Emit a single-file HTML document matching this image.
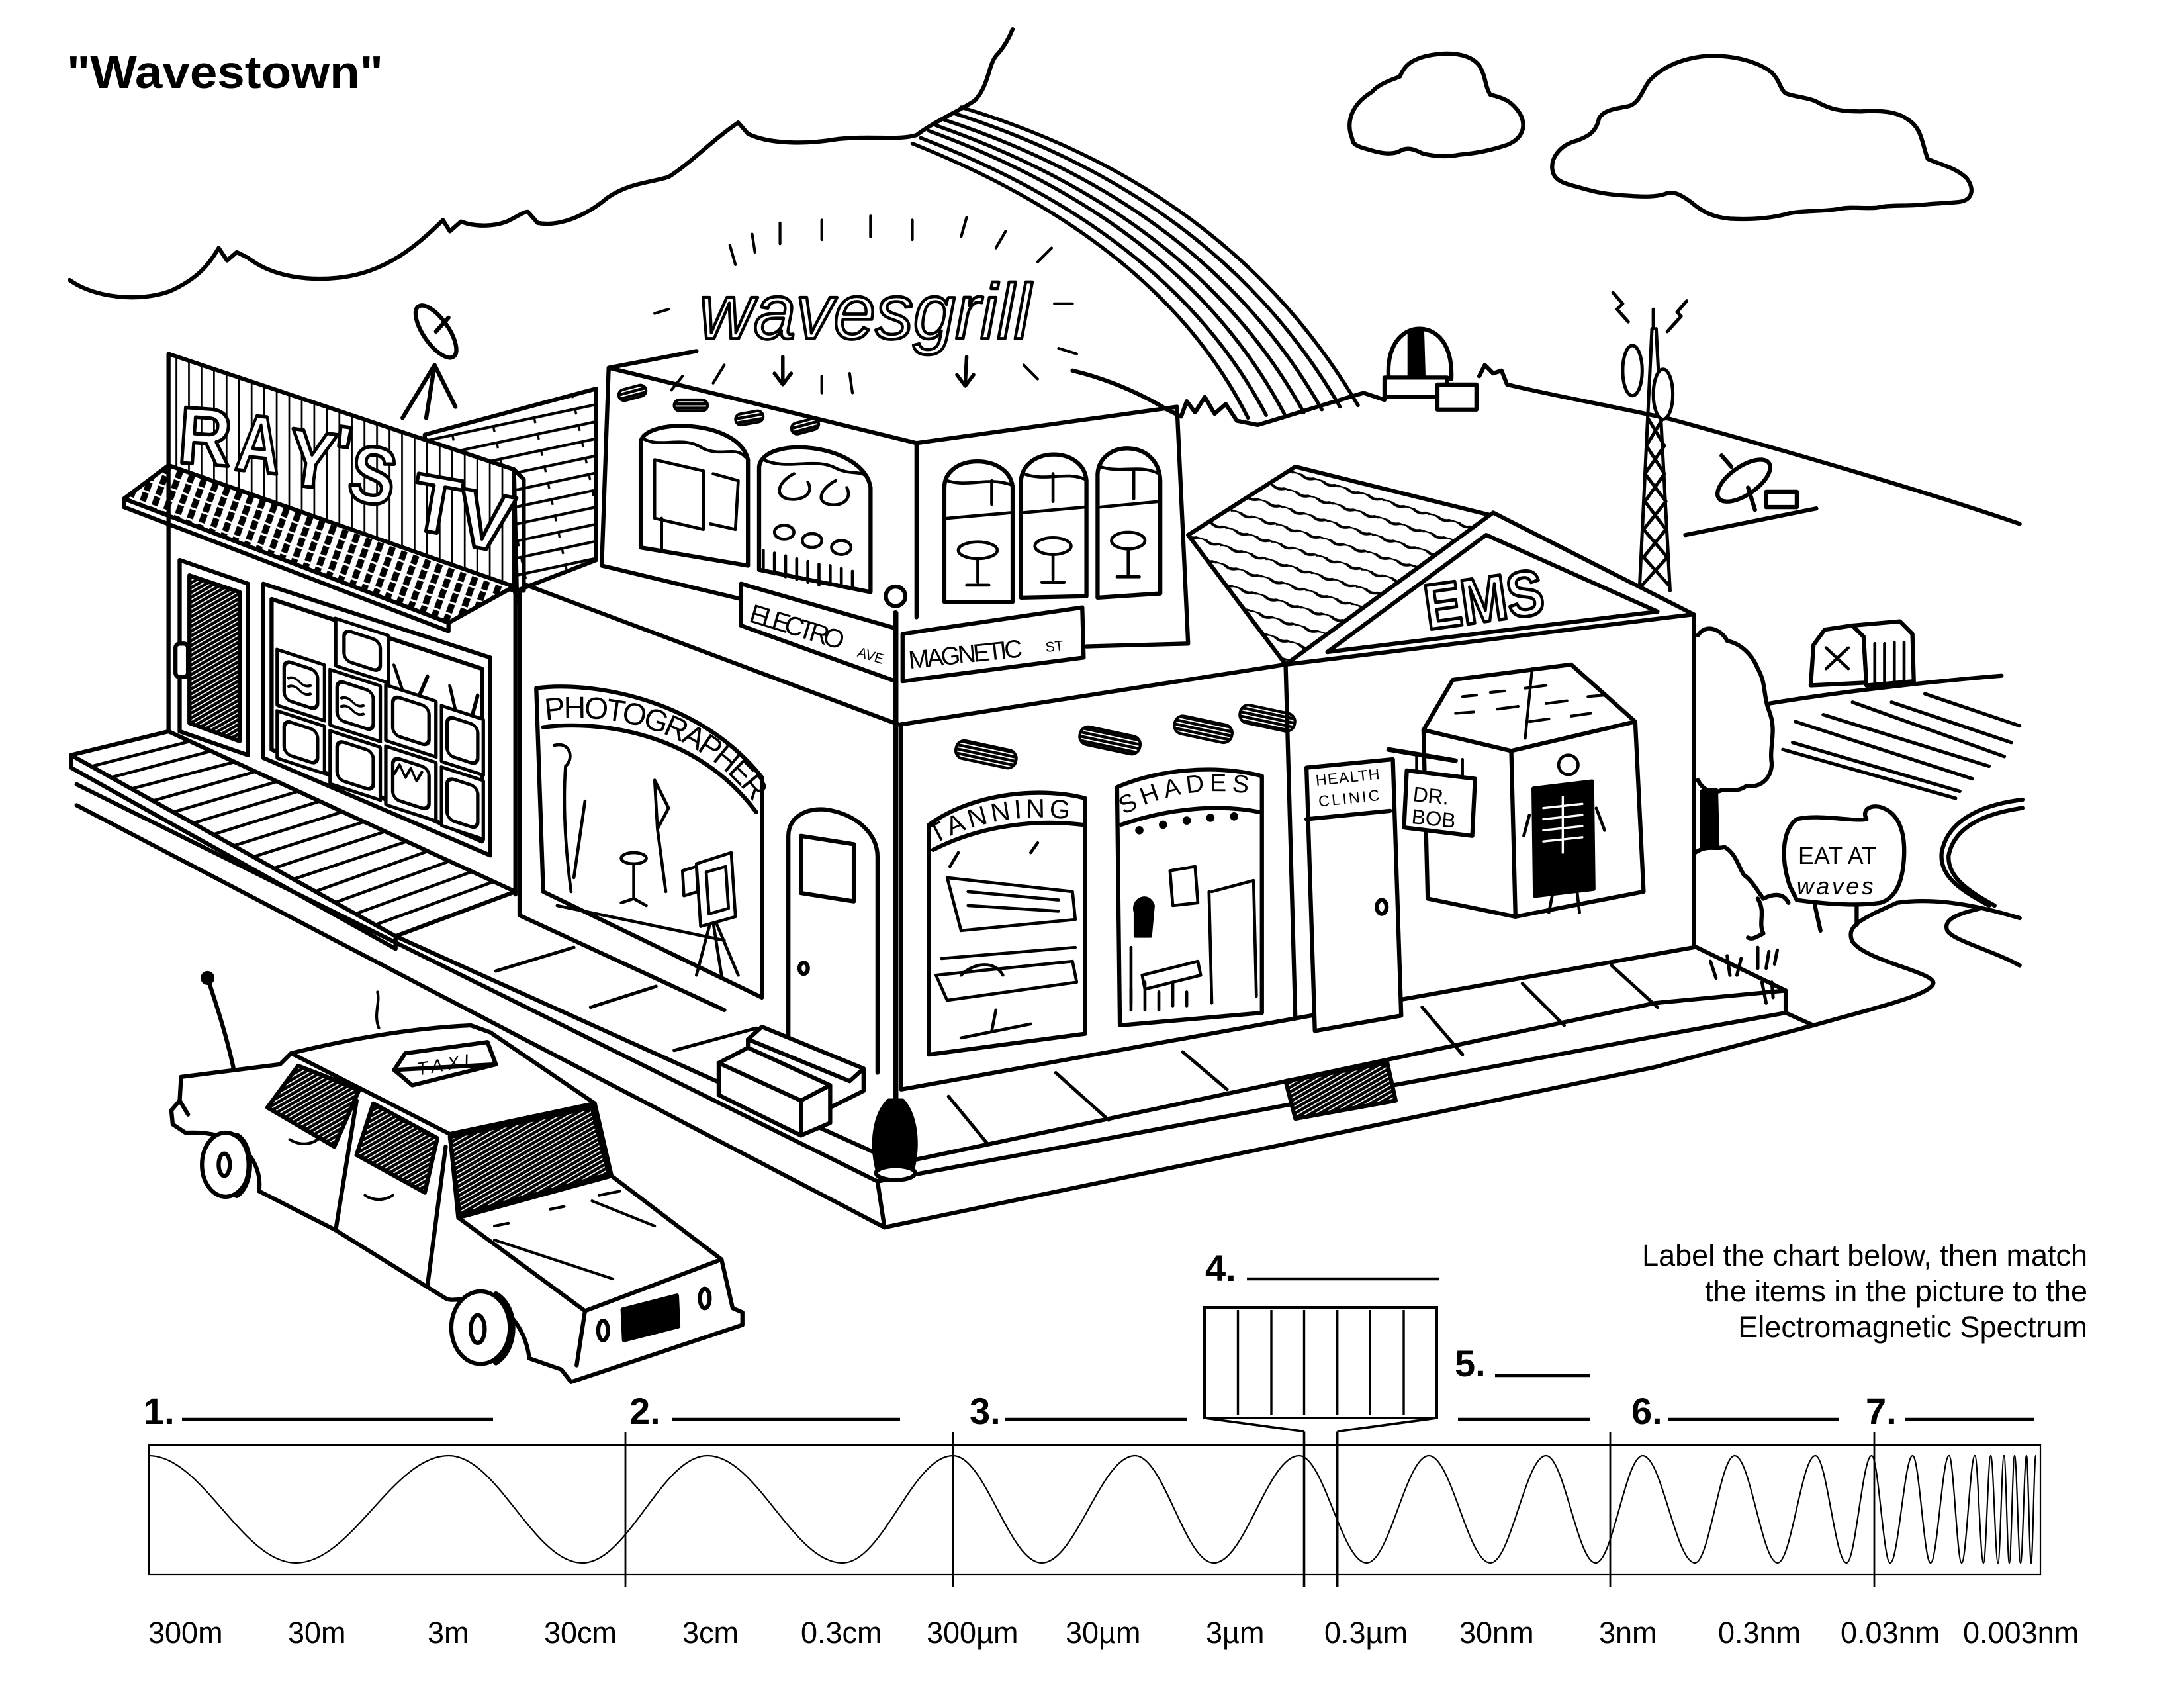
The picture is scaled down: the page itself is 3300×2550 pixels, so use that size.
<!DOCTYPE html>
<html><head><meta charset="utf-8"><style>
html,body{margin:0;padding:0;background:#fff;}
body{width:3300px;height:2550px;overflow:hidden;}
svg{display:block;}
text{font-family:"Liberation Sans",Arial,sans-serif;}
</style></head><body>
<svg width="3300" height="2550" viewBox="0 0 3300 2550" xmlns="http://www.w3.org/2000/svg">
<defs>
<pattern id="hatch" patternUnits="userSpaceOnUse" width="3" height="3" patternTransform="rotate(60)"><rect width="3" height="3" fill="#000"/><rect width="0.8" height="3" fill="#fff"/></pattern>
<pattern id="ticks" patternUnits="userSpaceOnUse" width="9" height="8" patternTransform="rotate(20)"><rect width="9" height="8" fill="#fff"/><rect x="1" y="0.5" width="4.6" height="6.5" fill="#000"/></pattern>
<pattern id="planks" patternUnits="userSpaceOnUse" width="9" height="20"><rect width="9" height="20" fill="#fff"/><rect width="1.3" height="20" fill="#000"/></pattern>
<pattern id="shingle" patternUnits="userSpaceOnUse" width="30" height="12" patternTransform="rotate(-12)"><rect width="30" height="12" fill="#fff"/><rect width="30" height="2" fill="#000"/><rect x="12" width="1.6" height="5" fill="#000"/></pattern>
<pattern id="shingle2" patternUnits="userSpaceOnUse" width="34" height="13" patternTransform="rotate(17)"><rect width="34" height="13" fill="#fff"/><path d="M0,1 q4,-2 8,0 t8,0 t8,0 t8,0 t8,0" stroke="#000" stroke-width="2" fill="none"/></pattern>
<pattern id="cyl" patternUnits="userSpaceOnUse" width="3" height="3"><rect width="3" height="3" fill="#000"/><rect width="3" height="0.9" fill="#fff"/></pattern>
<path id="pPhoto" d="M392,517 C432,511 500,520 541,576"/>
<path id="pTan" d="M671,606 C700,589 742,582 777,590"/>
<path id="pShade" d="M807,585 C836,569 870,564 904,571"/>
</defs>

<!-- TITLE -->
<text x="101" y="133" font-size="70" font-weight="bold" textLength="478" lengthAdjust="spacingAndGlyphs">"Wavestown"</text>

<g transform="scale(2.1046)" fill="none" stroke="#000" stroke-width="3" stroke-linejoin="round" stroke-linecap="round">

<!-- clouds -->
<path d="M50,201 C68,214 100,217 122,209 C142,200 150,190 157,178 L163,187 L170,181 L178,185 C196,199 222,202 246,199 C276,195 298,178 318,158 L323,166 L331,159 C341,163 356,163 366,158 C372,155 376,152 379,152 L386,160 C402,163 422,154 436,142 C452,131 468,131 480,127 C496,117 512,100 530,88 L537,96 C551,103 576,104 600,100 C625,97 645,101 658,97 C671,87 690,79 700,72 C711,60 709,45 717,38 C722,32 725,26 727,21"/>
<path d="M971,100 C966,88 970,75 985,66 C990,60 1000,57 1005,55 C1008,48 1012,43 1025,40 C1040,37 1055,38 1062,47 C1067,55 1066,62 1070,68 C1078,70 1086,72 1092,83 C1096,92 1092,100 1082,104 C1070,108 1060,110 1048,111 C1038,113 1028,112 1021,110 C1015,107 1010,105 1004,109 C995,112 985,108 978,106 C972,104 971,102 971,100 Z"/>
<path d="M1115,124 C1112,114 1120,104 1132,101 C1140,98 1146,95 1148,85 C1152,78 1162,78 1170,76 C1178,73 1180,62 1185,57 C1195,47 1210,41 1228,40 C1245,40 1262,44 1272,52 C1278,58 1278,64 1282,67 C1290,70 1300,70 1306,74 C1314,78 1320,80 1336,80 C1350,79 1362,80 1370,86 C1380,92 1380,104 1384,114 C1392,118 1404,120 1412,128 C1418,136 1416,144 1406,145 C1395,146 1388,146 1380,147 C1368,148 1356,147 1348,149 C1338,150 1330,148 1320,150 C1308,152 1296,151 1285,153 C1275,156 1260,158 1242,157 C1230,156 1222,152 1214,145 C1207,140 1202,137 1196,139 C1188,142 1175,141 1162,140 C1150,139 1142,137 1132,134 C1124,132 1117,130 1115,124 Z"/>

<!-- rainbow -->
<g stroke-width="2.6">
<path d="M690,77 Q883,135 975,291"/>
<path d="M684,81 Q875,142 962,292"/>
<path d="M678,86 Q866,148 949,294"/>
<path d="M672,90 Q858,155 936,296"/>
<path d="M667,94 Q850,161 922,297"/>
<path d="M661,99 Q841,168 909,298"/>
<path d="M655,103 Q833,174 896,300"/>
</g>

<!-- hills -->
<path d="M770,266 C795,272 818,282 838,294 L848,299 L852,288 L858,296 L865,285 L872,297 L880,290 L888,302 L903,305 C930,297 955,289 979,282 L994,287"/>
<path d="M1062,270 L1066,262 L1072,268 L1078,266 L1082,276 C1120,285 1160,292 1200,301 C1280,323 1380,352 1450,376"/>
<!-- observatory -->
<path d="M997,272 C995,246 1008,236 1019,236 C1031,236 1043,246 1042,272 Z" fill="#fff"/>
<path d="M1012,239 L1021,237 L1022,271 L1012,271 Z" fill="#000"/>
<rect x="994" y="271" width="45" height="14" fill="#fff"/>
<rect x="1032" y="276" width="28" height="18" fill="#fff"/>
<!-- tower -->
<g stroke-width="2.4">
<path d="M1177,424 L1186,236 M1199,424 L1189,236 M1187,236 L1187,222"/>
<path d="M1183,300 L1195,320 L1181,340 L1196,360 L1180,380 L1197,400 L1179,420 M1194,300 L1182,320 L1195,340 L1181,360 L1196,380 L1180,400 L1198,420"/>
<ellipse cx="1172" cy="266" rx="7" ry="18" fill="#fff"/>
<ellipse cx="1194" cy="283" rx="7" ry="18" fill="#fff"/>
<path d="M1158,210 L1165,218 L1161,222 L1169,231 M1211,216 L1204,224 L1207,227 L1197,238"/>
</g>
<!-- dish on hill -->
<path d="M1210,384 L1304,365"/>
<ellipse cx="1252" cy="345" rx="22" ry="10" transform="rotate(-35 1252 345)" fill="#fff"/>
<path d="M1255,350 L1260,366 M1243,335 L1236,327"/>
<rect x="1268" y="353" width="22" height="11" fill="#fff"/>
<!-- barn -->
<path d="M1300,492 L1302,463 L1310,452 L1330,449 L1338,457 L1340,490 Z" fill="#fff"/>
<path d="M1338,457 L1330,449 L1364,446 L1373,455 L1374,489 L1340,492 Z" fill="#fff"/>
<path d="M1346,462 L1346,490 M1353,462 L1353,490 M1360,461 L1360,489 M1367,461 L1367,489 M1311,465 L1327,480 M1327,465 L1311,480" stroke-width="2.2"/>
<!-- field -->
<path d="M1270,505 C1330,495 1400,488 1437,485"/>
<g stroke-width="2.5">
<path d="M1382,498 L1450,521"/><path d="M1358,504 L1444,533"/><path d="M1330,504 L1439,543"/>
<path d="M1309,513 L1428,550"/><path d="M1289,518 L1416,559"/><path d="M1287,533 L1407,568"/><path d="M1280,538 L1404,573"/>
</g>
<!-- road -->
<path d="M1452,574 C1420,578 1398,590 1394,612 C1392,630 1410,640 1428,650"/>
<path d="M1452,580 C1424,584 1403,594 1399,614 C1398,630 1414,640 1432,650"/>
<path d="M1302,736 C1340,725 1385,715 1388,706 C1390,698 1340,690 1330,676 C1325,665 1335,660 1362,648 C1390,644 1420,650 1450,659"/>
<path d="M1422,652 C1405,656 1395,660 1398,668 C1402,675 1430,682 1450,693"/>
<!-- tree & bushes -->
<path d="M1219,456 C1225,447 1236,452 1240,460 C1250,462 1258,470 1262,480 C1268,490 1266,500 1270,510 C1276,525 1270,535 1272,548 C1272,560 1262,566 1254,564 C1246,570 1240,565 1234,568 C1228,570 1222,566 1219,560"/>
<path d="M1222,568 L1222,608 L1233,606 L1232,567 Z" fill="#000"/>
<path d="M1217,612 C1226,606 1232,610 1238,608 C1246,612 1248,622 1252,628 C1258,632 1262,640 1266,645 C1272,642 1280,640 1284,648 M1262,645 C1268,655 1262,662 1266,670 C1262,672 1258,675 1255,673"/>
<path d="M1228,690 L1232,702 M1240,686 L1242,700 M1250,688 L1247,700 M1262,680 L1262,695 M1270,683 L1268,695 M1276,682 L1274,692 M1265,705 L1268,720 M1272,705 L1273,716" stroke-width="2.4"/>
<!-- sign eat at waves -->
<path d="M1285,636 C1278,615 1280,595 1290,588 C1305,584 1330,590 1340,588 C1336,580 1345,577 1352,580 C1362,584 1368,595 1367,615 C1366,635 1360,645 1350,648 C1330,651 1305,648 1290,646 Z" fill="#fff"/>
<path d="M1303,650 L1307,668 M1333,650 L1333,664"/>
<text x="1291" y="620" font-size="17" fill="#000" stroke="none" textLength="56">EAT AT</text>
<text x="1290" y="642" font-size="17" font-style="italic" fill="#000" stroke="none" textLength="55">waves</text>

<!-- RAY'S TV roof (behind) -->
<path d="M305,312 L428,279 L428,402 L371,424 L369,337 L305,316 Z" fill="url(#shingle)"/>
<!-- satellite dish -->
<path d="M312,262 L289,300 M312,262 L327,292 M312,262 L306,300"/>
<ellipse cx="313" cy="238" rx="22" ry="9" transform="rotate(55 313 238)" fill="#fff"/>
<path d="M313,238 L322,228"/>

<!-- RAY'S sign -->
<path d="M121,254 L369,337 L369,424 L121,334 Z" fill="url(#planks)"/>
<path d="M369,337 L376,344 L376,424 L369,424"/>
<g font-size="58" font-weight="bold" fill="#fff" stroke="#000" stroke-width="2.6">
<text transform="translate(127,332) rotate(4)" textLength="38" lengthAdjust="spacingAndGlyphs">R</text>
<text transform="translate(168,337) rotate(6)" textLength="32" lengthAdjust="spacingAndGlyphs">A</text>
<text transform="translate(204,347) rotate(8)" textLength="34" lengthAdjust="spacingAndGlyphs">Y</text>
<text transform="translate(236,345) rotate(8)">'</text>
<text transform="translate(248,358) rotate(10)" textLength="33" lengthAdjust="spacingAndGlyphs">S</text>
<text transform="translate(293,379) rotate(10)" textLength="34" lengthAdjust="spacingAndGlyphs">T</text>
<text transform="translate(325,390) rotate(10)" textLength="40" lengthAdjust="spacingAndGlyphs">V</text>
</g>
<!-- awning -->
<path d="M89,358 L121,334 L369,421 L322,447 Z" fill="url(#ticks)"/>
<path d="M89,358 L89,364 L322,453 L322,447"/>
<path d="M322,447 L369,421 L371,432"/>
<!-- ray's wall -->
<path d="M121,334 L121,527 M370,424 L370,642"/>
<path d="M129,402 L178,419 L178,542 L129,525 Z" fill="#fff"/>
<path d="M136,413 L172,425 L172,532 L136,519 Z" fill="url(#hatch)"/>
<rect x="126" y="462" width="9" height="24" rx="3" fill="#fff"/>
<path d="M189,419 L352,472 L352,614 L189,544 Z" fill="#fff"/>
<path d="M195,430 L346,480 L346,604 L195,538 Z"/>
<g transform="translate(189,419) skewY(18)" stroke-width="2.5" fill="#fff">
<rect x="10" y="44" width="34" height="40"/><rect x="15" y="50" width="24" height="28" rx="5"/>
<rect x="10" y="88" width="34" height="34"/><rect x="15" y="93" width="24" height="24" rx="5"/>
<rect x="52" y="8" width="38" height="34"/><rect x="58" y="14" width="26" height="22" rx="5"/>
<rect x="48" y="46" width="36" height="40"/><rect x="53" y="52" width="26" height="28" rx="5"/>
<rect x="48" y="90" width="36" height="38"/><rect x="53" y="95" width="26" height="28" rx="5"/>
<rect x="88" y="44" width="36" height="40"/><rect x="93" y="50" width="26" height="28" rx="5"/>
<rect x="88" y="88" width="36" height="42"/><rect x="93" y="94" width="26" height="30" rx="5"/>
<rect x="128" y="46" width="30" height="40"/><rect x="132" y="52" width="22" height="28" rx="5"/>
<rect x="128" y="90" width="30" height="42"/><rect x="132" y="96" width="22" height="30" rx="5"/>
<path d="M100,44 L94,28 M112,44 L118,28 M138,46 L134,30 M150,46 L154,30" fill="none"/>
<path d="M18,62 q4,-3 8,0 t8,0 M18,68 q4,-3 8,0 t8,0 M56,64 q4,-3 8,0 t8,0 M56,70 q4,-3 8,0 t8,0 M94,106 l4,-8 l4,8 l4,-8 l4,8 l4,-8" fill="none" stroke-width="1.8"/>
</g>
<!-- deck -->
<path d="M51,542 L121,525 L370,640 L284,672 Z" fill="#fff"/>
<path d="M51,542 L51,551 L284,681 L284,672"/>
<g stroke-width="2.2">
<path d="M66,550 L137,532 M80,558 L152,539 M95,566 L168,547 M109,575 L183,554 M124,583 L199,561 M138,591 L214,568 M153,599 L230,575 M168,607 L245,583 M182,615 L261,590 M197,623 L276,597 M211,631 L292,604 M226,640 L307,611 M240,648 L323,618 M255,656 L338,626 M269,664 L354,633"/>
</g>

<!-- sidewalk & curbs -->
<path d="M284,672 L645,835"/>
<path d="M55,563 L630,848"/>
<path d="M55,578 L635,881"/>
<path d="M630,848 L635,881 M645,835 L630,848"/>
<path d="M645,835 L1188,720 L1282,711"/>
<path d="M630,848 L1188,744 L1282,727"/>
<path d="M635,881 L1188,766 L1302,736"/>
<path d="M1216,679 L1282,711 L1282,727 L1302,736"/>
<g stroke-width="2.4">
<path d="M356,697 L412,680 M424,723 L471,708 M484,754 L543,738"/>
<path d="M681,787 L709,821 M758,770 L796,804 M849,755 L881,782 M1021,723 L1050,757 M1093,706 L1123,736 M1157,693 L1190,723"/>
</g>
<path d="M923,776 L996,763 L1002,790 L930,803 Z" fill="url(#hatch)"/>

<!-- photographer building (left face) -->
<path d="M378,420 L645,520"/>
<path d="M373,424 L373,657 L520,725"/>
<path d="M385,494 C420,489 500,499 547,558 L547,716 L390,640 Z" fill="#fff"/>
<path d="M390,522 C430,517 500,525 543,583"/>
<text font-size="22" fill="#000" stroke="none"><textPath href="#pPhoto" textLength="168">PHOTOGRAPHER</textPath></text>
<g stroke-width="2.2">
<path d="M398,535 C410,532 412,545 406,550 C404,580 406,610 410,640 M420,575 L412,630 M470,560 L480,580 L472,595 Z M472,595 L478,640 M455,620 L455,645 M446,648 L455,645 L464,650 M510,662 L500,700 M512,662 L518,700 M514,662 L530,700 M400,650 L520,675"/>
<ellipse cx="455" cy="616" rx="9" ry="4"/>
<path d="M500,620 L525,612 L528,658 L503,665 Z" fill="#fff"/>
<path d="M507,626 L521,622 L523,652 L509,656 Z"/>
<path d="M490,625 L500,622 L501,640 L491,643 Z" fill="#fff"/>
</g>
<path d="M566,754 L566,600 C566,585 582,578 598,582 C615,586 630,598 630,615 L630,770" fill="#fff"/>
<path d="M575,600 L613,606 L613,647 L575,641 Z"/>
<ellipse cx="577" cy="695" rx="3" ry="4"/>
<path d="M516,763 L537,752 L537,746 L547,737 L620,767 L620,783 L596,795 L596,806 L575,815 L516,786 Z" fill="#fff"/>
<path d="M537,752 L596,779 L596,795 M537,746 L610,776 L620,767 M516,763 L575,790 L575,815 M575,790 L596,779"/>

<!-- grill second floor -->
<path d="M437,264 L658,318 L845,292 L853,462 L780,464 M437,264 L432,406 L532,430 M658,318 L658,443 M437,264 L500,252"/>
<path d="M460,393 L460,318 C460,300 530,300 537,330 L537,406 Z" fill="#fff"/>
<path d="M545,409 L545,335 C548,312 620,318 625,350 L625,425 Z" fill="#fff"/>
<path d="M678,432 L678,350 C678,325 725,325 727,350 L727,432 Z" fill="#fff"/>
<path d="M733,429 L733,345 C735,320 778,320 780,345 L780,428 Z" fill="#fff"/>
<path d="M788,429 L788,340 C790,315 832,315 833,345 L833,426 Z" fill="#fff"/>
<g stroke-width="2.2">
<path d="M462,315 C475,322 490,312 505,322 C518,328 528,320 535,328 M548,330 C565,338 585,328 600,336 C612,342 620,336 624,345 M680,345 C695,350 710,342 726,348 M735,340 C750,346 765,338 779,344 M790,335 C805,340 818,333 832,340"/>
<path d="M470,330 L505,338 L505,380 L470,372 Z M512,340 L530,345 L528,380 L510,376 M475,372 L475,395"/>
<path d="M570,340 C560,345 555,355 565,358 C575,360 585,355 580,346 M600,345 C590,350 585,360 595,362 C605,364 612,358 608,350"/>
<ellipse cx="563" cy="382" rx="7" ry="5"/><ellipse cx="583" cy="388" rx="7" ry="5"/><ellipse cx="604" cy="393" rx="7" ry="5"/>
<path d="M548,395 L548,410 M556,397 L556,412 M564,399 L564,414 M572,401 L572,416 M580,403 L580,418 M588,405 L588,420 M596,406 L596,420 M604,408 L604,420 M612,410 L612,422"/>
<path d="M680,372 L726,368 M735,368 L779,364 M790,364 L832,360"/>
<ellipse cx="702" cy="395" rx="14" ry="6"/><path d="M702,401 L702,418 M694,420 L710,420"/>
<ellipse cx="756" cy="392" rx="13" ry="6"/><path d="M756,398 L756,416 M748,418 L764,418"/>
<ellipse cx="810" cy="388" rx="12" ry="6"/><path d="M810,394 L810,412 M802,414 L818,414"/>
<path d="M712,345 L712,362 M756,340 L756,360 M814,338 L814,358"/>
</g>
<g fill="url(#cyl)" stroke-width="2">
<rect x="444" y="278" width="20" height="8" rx="4" transform="rotate(-15 454 282)"/>
<rect x="484" y="287" width="24" height="8" rx="4"/>
<rect x="528" y="296" width="20" height="8" rx="4" transform="rotate(-10 538 300)"/>
<rect x="568" y="302" width="20" height="8" rx="4" transform="rotate(-15 578 306)"/>
</g>
<!-- wavesgrill sign -->
<text x="502" y="243" font-size="56" font-style="italic" fill="#fff" stroke="#000" stroke-width="2.2" textLength="238" lengthAdjust="spacingAndGlyphs">wavesgrill</text>
<g stroke-width="2">
<path d="M528,190 L524,176 M542,181 L540,168 M560,175 L560,160 M590,172 L590,158 M625,170 L625,155 M655,172 L655,158 M690,170 L694,156 M715,178 L722,166 M745,188 L755,178 M470,225 L480,222 M757,218 L770,218 M760,250 L773,254 M490,270 L482,280 M520,262 L512,275 M590,270 L590,282 M610,268 L612,282 M735,262 L745,272"/>
</g>
<path d="M562,256 L562,274 M556,268 L562,276 L568,268 M694,256 L693,275 M687,269 L693,277 L699,269" stroke-width="2.6"/>

<!-- street signs -->
<path d="M532,419 L643,451 L643,489 L532,449 Z" fill="#fff"/>
<text transform="translate(537,446) rotate(17)" font-size="19" fill="#000" stroke="none" textLength="70">ELECTRO</text>
<text transform="translate(615,471) rotate(17)" font-size="10" fill="#000" stroke="none">AVE</text>
<path d="M648,455 L777,436 L778,472 L648,489 Z" fill="#fff"/>
<text transform="translate(653,480) rotate(-6)" font-size="18" fill="#000" stroke="none" textLength="82">MAGNETIC</text>
<text transform="translate(751,468) rotate(-6)" font-size="10" fill="#000" stroke="none">ST</text>

<!-- first floor right face -->
<path d="M647,520 L923,477"/>
<path d="M647,520 L647,782 L930,731"/>
<path d="M667,757 L667,592 C700,568 750,565 779,573 L779,742 Z" fill="#fff"/>
<path d="M670,610 C705,592 745,588 777,592"/>
<text font-size="19" fill="#000" stroke="none"><textPath href="#pTan" textLength="100">TANNING</textPath></text>
<g stroke-width="2.2">
<path d="M680,630 L770,640 L772,660 L690,668 Z M695,640 L760,646 M695,650 L760,654 M672,700 L770,690 L773,705 L680,718 Z M690,700 C700,690 715,690 720,700 M715,725 L712,740 M690,745 L740,735 M676,688 L772,680 M682,622 L688,612 M740,612 L745,605"/>
</g>
<path d="M804,736 L802,565 C830,553 870,548 906,557 L906,727 Z" fill="#fff"/>
<path d="M805,592 C840,580 875,577 905,583"/>
<text font-size="18" fill="#000" stroke="none"><textPath href="#pShade" textLength="92">SHADES</textPath></text>
<g fill="#000" stroke="none"><circle cx="818" cy="596" r="3"/><circle cx="835" cy="592" r="3"/><circle cx="852" cy="589" r="3"/><circle cx="869" cy="587" r="3"/><circle cx="886" cy="586" r="3"/></g>
<g stroke-width="2.2">
<path d="M840,625 L858,622 L860,648 L842,650 Z M868,640 L870,720 M870,640 L900,632 L902,715 M812,680 L812,720 M820,700 L860,690 L862,700 L822,710 Z"/>
<path d="M815,655 C812,645 825,640 828,650 L826,672 L815,672 Z" fill="#000"/>
<path d="M812,725 L812,710 M822,725 L822,705 M832,725 L832,712 M842,722 L842,706 M852,722 L852,712"/>
</g>
<g fill="url(#cyl)" stroke-width="2">
<rect x="686" y="535" width="44" height="13" rx="6" transform="rotate(12 708 541)"/>
<rect x="775" y="525" width="44" height="13" rx="6" transform="rotate(12 797 531)"/>
<rect x="843" y="517" width="42" height="13" rx="6" transform="rotate(12 864 523)"/>
<rect x="890" y="509" width="40" height="13" rx="6" transform="rotate(12 910 515)"/>
</g>
<!-- lamp post -->
<path d="M643,440 L643,790" stroke-width="4"/>
<circle cx="643" cy="428" r="7" fill="#fff"/>
<path d="M630,840 C625,820 628,800 638,790 L648,790 C657,800 660,820 655,840 Z" fill="#000"/>
<ellipse cx="643" cy="842" rx="14" ry="5" fill="#fff"/>

<!-- EMS building -->
<path d="M853,384 L930,335 L1071,370 L923,477 Z" fill="url(#shingle2)"/>
<path d="M923,477 L1072,368 L1216,441 Z" fill="#fff"/>
<path d="M953,468 L1067,384 L1190,439 Z"/>
<text transform="translate(1025,452) rotate(-8)" font-size="46" font-weight="bold" fill="#fff" stroke="#000" stroke-width="2.4" textLength="86" lengthAdjust="spacingAndGlyphs">EMS</text>
<path d="M923,477 L930,731 M1216,441 L1216,680 M930,731 L1216,680"/>
<path d="M938,551 L1000,545 L1006,729 L944,740 Z" fill="#fff"/>
<path d="M938,588 L998,582"/>
<text transform="translate(945,564) rotate(-6)" font-size="11" fill="#000" stroke="none" textLength="46">HEALTH</text>
<text transform="translate(947,579) rotate(-6)" font-size="11" fill="#000" stroke="none" textLength="44">CLINIC</text>
<ellipse cx="992" cy="651" rx="3.5" ry="5"/>
<path d="M1022,524 L1043,488 L1128,477 L1174,518 L1085,539 Z" fill="#fff"/>
<path d="M1085,539 L1174,518 L1180,640 L1088,658 Z" fill="#fff"/>
<path d="M1022,524 L1025,645 L1088,658"/>
<path d="M1050,500 L1060,499 M1070,497 L1080,496 M1095,494 L1110,492 M1045,512 L1058,511 M1075,509 L1090,507 M1110,505 L1125,503 M1140,500 L1152,499 M1098,518 L1112,516 M1128,514 L1142,512 M1100,480 L1095,530" stroke-width="2"/>
<path d="M1101,566 L1143,561 L1144,638 L1102,643 Z" fill="#000"/>
<path d="M1108,580 L1136,577 M1108,588 L1136,585 M1108,596 L1136,593 M1108,604 L1136,601 M1122,572 L1122,612" stroke="#fff" stroke-width="1.6"/>
<circle cx="1126" cy="549" r="7" fill="#fff" stroke-width="2.2"/>
<path d="M1115,640 L1112,655 M1132,638 L1134,655 M1098,585 L1094,600 M1146,580 L1152,596" stroke-width="2.2"/>
<path d="M997,538 L1045,546" stroke-width="3.4"/>
<path d="M1017,541 L1017,553 M1050,545 L1050,558" stroke-width="2"/>
<path d="M1010,553 L1059,559 L1057,600 L1008,594 Z" fill="#fff"/>
<text transform="translate(1014,575) rotate(6)" font-size="15" fill="#000" stroke="none">DR.</text>
<text transform="translate(1013,591) rotate(6)" font-size="15" fill="#000" stroke="none">BOB</text>

<!-- CAR -->
<path d="M149,702 C155,720 165,750 170,779"/>
<circle cx="149" cy="702" r="3.5" fill="#000"/>
<path d="M271,712 C273,720 268,728 272,738" stroke-width="2"/>
<path d="M130,773 L201,764 L209,756 C250,746 295,738 338,736 L352,741 L427,792 L439,844 L518,904 L526,939 L533,942 L533,951 L410,992 L403,983 L380,975 C378,958 368,940 350,934 C335,930 325,935 320,932 L241,883 L186,855 C188,840 180,825 165,818 C150,812 140,813 133,813 L124,807 L123,797 L129,790 Z" fill="#fff"/>
<path d="M209,756 L323,814 L427,792 M323,814 L329,874 L439,844 M329,874 L420,941 L518,904 M420,941 L414,980 M241,883 L256,790 M307,922 L320,823 M129,790 L135,800"/>
<path d="M323,816 L425,795 L437,843 L330,872 Z" fill="url(#hatch)"/>
<path d="M192,795 L214,765 L258,782 L240,823 Z" fill="url(#hatch)"/>
<path d="M256,829 L268,792 L314,817 L305,856 Z" fill="url(#hatch)"/>
<path d="M283,768 L291,756 L350,748 L356,764 Z" fill="#fff"/>
<path d="M283,768 L296,779 L356,764"/>
<text transform="translate(300,772) rotate(-10)" font-size="13" font-style="italic" fill="#000" stroke="none" textLength="38">TAXI</text>
<ellipse cx="162" cy="836" rx="17" ry="23" fill="#fff"/>
<path d="M170,815 C182,822 182,850 170,858" stroke-width="4"/>
<ellipse cx="161" cy="836" rx="4" ry="8" fill="#fff"/>
<ellipse cx="345" cy="953" rx="21" ry="26" fill="#fff"/>
<path d="M356,929 C372,938 372,968 356,978" stroke-width="4"/>
<ellipse cx="343" cy="954" rx="5" ry="10" fill="#fff"/>
<path d="M447,940 L486,930 L487,952 L448,962 Z" fill="#000"/>
<ellipse cx="433" cy="955" rx="3.5" ry="7"/>
<ellipse cx="506" cy="932" rx="3.5" ry="7"/>
<path d="M355,880 L365,878 M395,868 L405,866 M430,858 L445,855 M355,890 L440,918 M425,862 L470,880" stroke-width="2"/>
<path d="M208,818 C215,822 222,822 228,818 M262,858 C268,862 276,862 282,858" stroke-width="2"/>
</g>

<!-- CHART -->
<g fill="none" stroke="#000">
<rect x="225" y="2183" width="2858" height="196" stroke-width="2.2"/>
<path stroke-width="2.2" d="M225,2199 C305.8,2199 366.2,2361 447,2361 C531.1,2361 593.9,2199 678,2199 C751.5,2199 806.5,2361 880,2361 C948.8,2361 1000.2,2199 1069,2199 C1143.3,2199 1198.7,2361 1273,2361 C1333.8,2361 1379.2,2199 1440,2199 C1488.8,2199 1525.2,2361 1574,2361 C1625.3,2361 1663.7,2199 1715,2199 C1758.3,2199 1790.7,2361 1834,2361 C1881,2361 1916,2199 1963,2199 C2000.1,2199 2027.9,2361 2065,2361 C2099.2,2361 2124.8,2199 2159,2199 C2192.9,2199 2218.1,2361 2252,2361 C2282.6,2361 2305.4,2199 2336,2199 C2363.3,2199 2383.7,2361 2411,2361 C2436.8,2361 2456.2,2199 2482,2199 C2510.8,2199 2532.2,2361 2561,2361 C2582.8,2361 2599.2,2199 2621,2199 C2644.7,2199 2662.3,2361 2686,2361 C2706.7,2361 2722.3,2199 2743,2199 C2760.1,2199 2772.9,2361 2790,2361 C2803.8,2361 2814.2,2199 2828,2199 C2838.2,2199 2845.8,2361 2856,2361 C2868.4,2361 2877.6,2199 2890,2199 C2899.8,2199 2907.2,2361 2917,2361 C2927.2,2361 2934.8,2199 2945,2199 C2951.9,2199 2957.1,2361 2964,2361 C2971.3,2361 2976.7,2199 2984,2199 C2988.7,2199 2992.3,2361 2997,2361 C3001,2361 3004,2199 3008,2199 C3012,2199 3015,2361 3019,2361 C3022.3,2361 3024.7,2199 3028,2199 C3030.9,2199 3033.1,2361 3036,2361 C3038.9,2361 3041.1,2199 3044,2199 C3047.3,2199 3049.7,2361 3053,2361 C3056.3,2361 3058.7,2199 3062,2199 C3064.5,2199 3066.5,2361 3069,2361 C3071.5,2361 3073.5,2199 3076,2199"/>
<path stroke-width="2.8" d="M945,2163 L945,2398 M1440,2163 L1440,2398 M2433,2163 L2433,2398 M2832,2163 L2832,2398"/>
<path stroke-width="3.6" d="M1970.5,2162.5 L1970.5,2398 M2020.7,2162.5 L2020.7,2398 M1820,2142 L1970.5,2162.5 M2171,2142 L2020.7,2162.5"/>
<rect x="1820" y="1975" width="351" height="167" stroke-width="4"/>
<path stroke-width="3.4" d="M1870.5,1979 L1870.5,2138 M1921,1979 L1921,2138 M1970.5,1979 L1970.5,2138 M2020.7,1979 L2020.7,2138 M2070,1979 L2070,2138 M2121,1979 L2121,2138"/>
<path stroke-width="4.6" d="M275,2144 L745,2144 M1016,2144 L1360,2144 M1519,2144 L1793,2144 M2203,2144 L2403,2144 M2521,2144 L2778,2144 M2879,2144 L3074,2144 M1884,1932 L2175,1932 M2259,2078 L2403,2078"/>
</g>
<g font-size="56" font-weight="bold" fill="#000">
<text x="217" y="2151">1.</text>
<text x="951" y="2151">2.</text>
<text x="1465" y="2151">3.</text>
<text x="1821" y="1935">4.</text>
<text x="2198" y="2079">5.</text>
<text x="2465" y="2151">6.</text>
<text x="2819" y="2151">7.</text>
</g>
<g font-size="45" fill="#000">
<text x="224" y="2482">300m</text>
<text x="435" y="2482">30m</text>
<text x="646" y="2482">3m</text>
<text x="822" y="2482">30cm</text>
<text x="1031" y="2482">3cm</text>
<text x="1210" y="2482">0.3cm</text>
<text x="1400" y="2482">300µm</text>
<text x="1610" y="2482">30µm</text>
<text x="1822" y="2482">3µm</text>
<text x="2001" y="2482">0.3µm</text>
<text x="2205" y="2482">30nm</text>
<text x="2416" y="2482">3nm</text>
<text x="2596" y="2482">0.3nm</text>
<text x="2781" y="2482">0.03nm</text>
<text x="2966" y="2482">0.003nm</text>
</g>
<g font-size="45" fill="#000" text-anchor="end">
<text x="3154" y="1912">Label the chart below, then match</text>
<text x="3154" y="1966">the items in the picture to the</text>
<text x="3154" y="2020">Electromagnetic Spectrum</text>
</g>
</svg>
</body></html>
